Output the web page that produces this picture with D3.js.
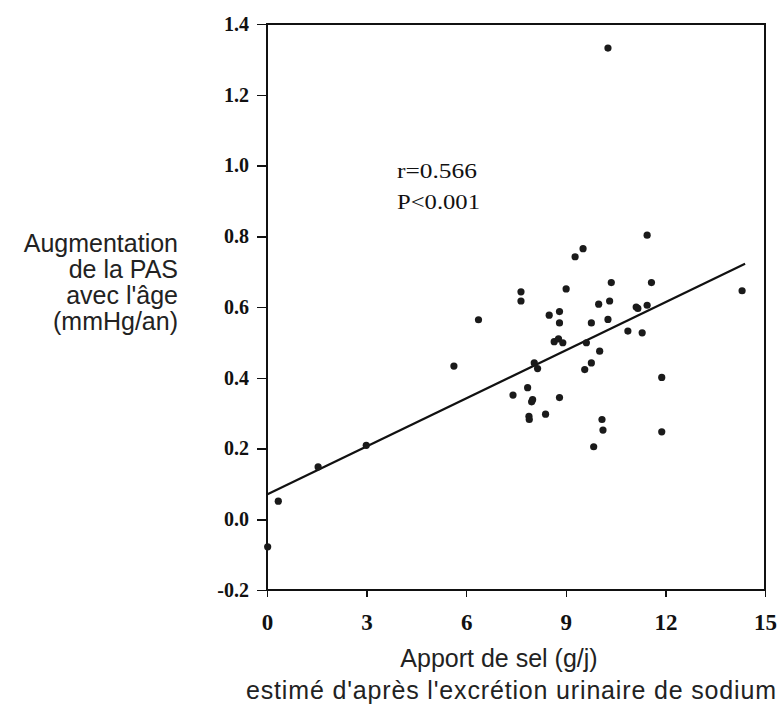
<!DOCTYPE html>
<html>
<head>
<meta charset="utf-8">
<script src="https://cdn.jsdelivr.net/npm/d3@7"></script>
<style>
  body { margin: 0; background: #fff; }
  .axis path, .axis line { fill: none; stroke: #111; stroke-width: 1.5px; shape-rendering: crispEdges; }
  .title { font: 25px "Liberation Sans", Arial, sans-serif; fill: #222; }
  .stat { font: 21px "Liberation Serif", serif; fill: #111; }
</style>
</head>
<body>
<svg id="chart" width="781" height="705"></svg>
<script>
// data: salt intake (g/day) vs SBP rise with age (mmHg/yr)
const saltIntake = [
  0.02, 0.34, 1.54, 2.99, 5.63, 6.37, 7.41, 7.65, 7.65, 7.85,
  7.89, 7.90, 7.97, 8.00, 8.05, 8.15, 8.39, 8.50, 8.65, 8.78,
  8.81, 8.81, 8.81, 8.91, 9.01, 9.28, 9.52, 9.57, 9.62, 9.77,
  9.77, 9.84, 9.99, 10.02, 10.09, 10.12, 10.27, 10.27, 10.32, 10.37,
  10.87, 11.12, 11.17, 11.30, 11.45, 11.45, 11.58, 11.89, 11.89, 14.31
];
const sbpRise = [
  -0.078, 0.051, 0.148, 0.209, 0.433, 0.564, 0.351, 0.643, 0.617, 0.372,
  0.291, 0.282, 0.332, 0.338, 0.442, 0.426, 0.297, 0.577, 0.502, 0.510,
  0.587, 0.555, 0.344, 0.499, 0.651, 0.742, 0.765, 0.423, 0.499, 0.555,
  0.442, 0.205, 0.608, 0.475, 0.282, 0.252, 0.565, 1.332, 0.617, 0.669,
  0.532, 0.600, 0.596, 0.527, 0.605, 0.803, 0.669, 0.401, 0.247, 0.646
];
const xTicks = [0, 3, 6, 9, 12, 15];
const yTicks = [-0.2, 0.0, 0.2, 0.4, 0.6, 0.8, 1.0, 1.2, 1.4];
const fitLine = { intercept: 0.07, slope: 0.0453, xStart: 0, xEnd: 14.4 };
const statLines = ['r=0.566', 'P<0.001'];
const yTitle = ['Augmentation', 'de la PAS', "avec l'âge", '(mmHg/an)'];
const xTitle = ['Apport de sel (g/j)', "estimé d'après l'excrétion urinaire de sodium"];

const MARGIN = { top: 24, right: 16, bottom: 115, left: 267 };
const W = 781, H = 705;
const w = W - MARGIN.left - MARGIN.right,
  h = H - MARGIN.top - MARGIN.bottom;

const svg = d3.select('#chart');
const g = svg.append('g').attr('transform', 'translate(' + MARGIN.left + ',' + MARGIN.top + ')');

const x = d3.scaleLinear().domain([0, 15]).range([0, w]);
const y = d3.scaleLinear().domain([-0.2, 1.4]).range([h, 0]);

// frame
g.append('rect')
  .attr('width', w).attr('height', h)
  .attr('fill', 'none').attr('stroke', '#111').attr('stroke-width', 1.5)
  .attr('shape-rendering', 'crispEdges');

const yAxis = g.append('g')
  .attr('class', 'axis')
  .call(d3.axisLeft(y).tickValues(yTicks).tickSize(10).tickPadding(8))
  .call(s => s.select('.domain').remove());
yAxis.selectAll('text')
  .text(d => d3.format('.1f')(d).replace('−', '-'))
  .style('font', 'bold 20px "Liberation Serif", serif')
  .style('fill', '#111');

const xAxis = g.append('g')
  .attr('class', 'axis')
  .attr('transform', 'translate(0,' + h + ')')
  .call(d3.axisBottom(x).tickValues(xTicks).tickFormat(d3.format('d')).tickSize(7).tickPadding(17))
  .call(s => s.select('.domain').remove());
xAxis.selectAll('text')
  .style('font', 'bold 23px "Liberation Serif", serif')
  .style('fill', '#111');

// regression line
g.append('line')
  .attr('x1', x(fitLine.xStart))
  .attr('y1', y(fitLine.intercept + fitLine.slope * fitLine.xStart))
  .attr('x2', x(fitLine.xEnd))
  .attr('y2', y(fitLine.intercept + fitLine.slope * fitLine.xEnd))
  .attr('stroke', '#111').attr('stroke-width', 2.2);

const pts = saltIntake.map((v, i) => ({ x: v, y: sbpRise[i] }));
g.append('g')
  .selectAll('circle')
  .data(pts)
  .enter()
  .append('circle')
  .attr('cx', d => x(d.x))
  .attr('cy', d => y(d.y))
  .attr('r', 3.6)
  .attr('fill', '#1a1a1a');

// r / P annotation
g.append('g')
  .selectAll('text')
  .data(statLines)
  .enter()
  .append('text')
  .attr('class', 'stat')
  .attr('x', 397 - MARGIN.left)
  .attr('y', (d, i) => 178 - MARGIN.top + i * 31)
  .attr('textLength', (d, i) => (i ? 83 : 80))
  .attr('lengthAdjust', 'spacingAndGlyphs')
  .text(d => d);

// y title, right aligned left of the axis
svg.append('g')
  .selectAll('text')
  .data(yTitle)
  .enter()
  .append('text')
  .attr('class', 'title')
  .attr('text-anchor', 'end')
  .attr('x', 178)
  .attr('y', (d, i) => 252 + i * 26)
  .text(d => d);

svg.append('g')
  .selectAll('text')
  .data(xTitle)
  .enter()
  .append('text')
  .attr('class', 'title')
  .attr('text-anchor', 'middle')
  .attr('x', (d, i) => (i ? 511 : 499))
  .attr('y', (d, i) => 667 + i * 32)
  .attr('textLength', (d, i) => (i ? 530 : null))
  .attr('lengthAdjust', 'spacing')
  .text(d => d);
</script>
</body>
</html>
